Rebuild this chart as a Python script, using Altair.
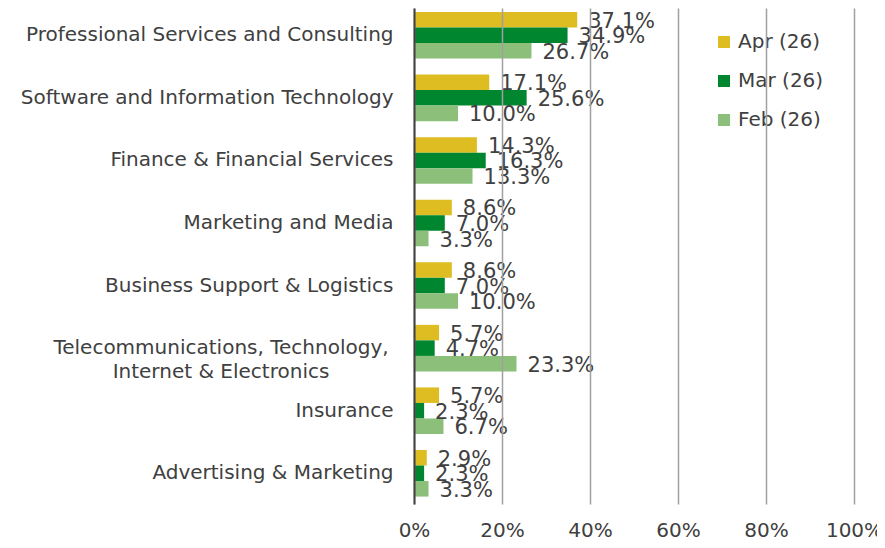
import altair as alt
import pandas as pd

categories = [
    "Professional Services and Consulting",
    "Software and Information Technology",
    "Finance & Financial Services",
    "Marketing and Media",
    "Business Support & Logistics",
    "Telecommunications, Technology, Internet & Electronics",
    "Insurance",
    "Advertising & Marketing",
]
series = ["Apr (26)", "Mar (26)", "Feb (26)"]
apr = [37.1, 17.1, 14.3, 8.6, 8.6, 5.7, 5.7, 2.9]
mar = [34.9, 25.6, 16.3, 7.0, 7.0, 4.7, 2.3, 2.3]
feb = [26.7, 10.0, 13.3, 3.3, 10.0, 23.3, 6.7, 3.3]
colors = ["#DEBD23", "#00862E", "#8CBF7A"]
x_ticks = [0, 0.2, 0.4, 0.6, 0.8, 1.0]

rows = []
for i, c in enumerate(categories):
    for s, vals in zip(series, [apr, mar, feb]):
        rows.append({"category": c, "series": s, "value": vals[i] / 100})
df = pd.DataFrame(rows)

FONT = "DejaVu Sans"
TXT = "#404040"
TEL = categories[5]

y_enc = alt.Y(
    "category:N",
    sort=categories,
    scale=alt.Scale(paddingInner=0.256, paddingOuter=0.0915, align=0.35),
    axis=alt.Axis(
        title=None,
        labelExpr=f"datum.value == '{TEL}' ? '' : datum.value",
        ticks=False,
        labelPadding=21,
        labelFontSize=20,
        labelColor=TXT,
        labelFont=FONT,
        domainColor=TXT,
        domainWidth=2,
        grid=False,
        labelLimit=600,
        zindex=1,
    ),
)
yoff = alt.YOffset("series:N", sort=series, scale=alt.Scale(paddingInner=0, paddingOuter=0))
x_enc = alt.X(
    "value:Q",
    scale=alt.Scale(domain=[0, 1]),
    axis=alt.Axis(
        values=x_ticks,
        format="%",
        title=None,
        grid=True,
        gridColor="#A0A0A0",
        gridWidth=1.5,
        domain=False,
        ticks=False,
        labelFlush=False,
        labelFontSize=20,
        labelPadding=16,
        labelFont=FONT,
        labelColor=TXT,
        zindex=1,
    ),
)

base = alt.Chart(df)
bars = base.mark_bar().encode(
    x=x_enc,
    y=y_enc,
    yOffset=yoff,
    color=alt.Color(
        "series:N",
        sort=series,
        scale=alt.Scale(domain=series, range=colors),
        legend=alt.Legend(
            title=None,
            orient="none",
            legendX=300,
            legendY=24,
            symbolType="square",
            symbolSize=144,
            symbolStrokeWidth=0,
            labelFontSize=20,
            labelFont=FONT,
            labelColor=TXT,
            labelOffset=4,
            rowPadding=19,
            padding=0,
        ),
    ),
)
labels = base.mark_text(
    align="left", baseline="middle", dx=11, dy=2, fontSize=21, font=FONT, color=TXT
).encode(
    x="value:Q",
    y=alt.Y("category:N", sort=categories),
    yOffset=alt.YOffset("series:N", sort=series),
    text=alt.Text("value:Q", format=".1%"),
)

tel_df = pd.DataFrame({"category": [TEL], "label": ["Telecommunications, Technology,\nInternet & Electronics"]})
tel = alt.Chart(tel_df).mark_text(
    align="center", baseline="middle", lineBreak="\n", lineHeight=24, fontSize=20, font=FONT, color=TXT
).encode(
    x=alt.value(-193),
    y=alt.Y("category:N", sort=categories),
    text="label:N",
)

chart = (
    alt.layer(bars, labels, tel)
    .properties(
        width=440,
        height=496,
        autosize=alt.AutoSizeParams(type="none"),
        padding={"left": 406, "top": 0, "right": 23, "bottom": 36},
    )
    .configure_view(stroke=None)
)

chart.save("out.html", embed_options={"renderer": "svg", "actions": False})
